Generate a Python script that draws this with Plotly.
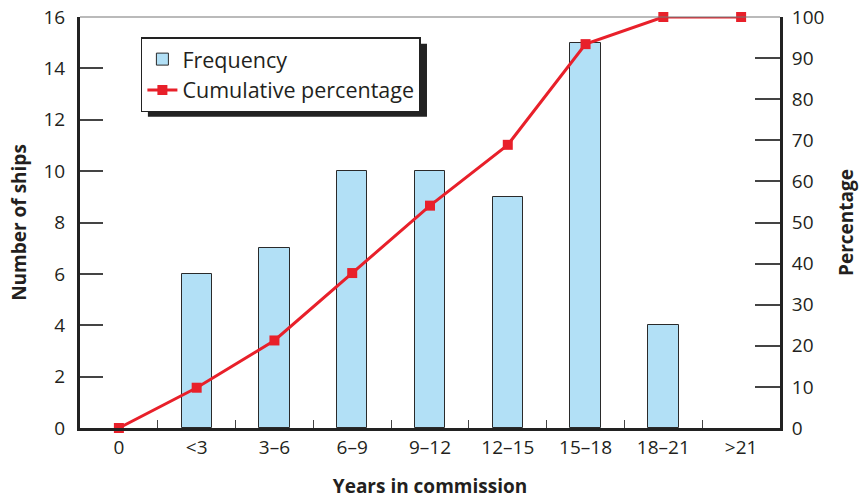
import plotly.graph_objects as go

categories = ["0", "<3", "3–6", "6–9", "9–12", "12–15", "15–18", "18–21", ">21"]
bar_categories = ["<3", "3–6", "6–9", "9–12", "12–15", "15–18", "18–21", ">21"]
frequency = [6, 7, 10, 10, 9, 15, 4, 0]
cumulative_pct = [0, 9.8, 21.3, 37.7, 54.1, 68.9, 93.4, 100, 100]
left_ticks = [0, 2, 4, 6, 8, 10, 12, 14, 16]
right_ticks = [0, 10, 20, 30, 40, 50, 60, 70, 80, 90, 100]

FONT = "Open Sans"
TXT = "#231f20"

fig = go.Figure()
fig.add_trace(go.Bar(
    x=bar_categories, y=frequency, name="Frequency",
    marker=dict(color="#b2e0f6",
                line=dict(color="#2a2a2a", width=[1 if v > 0 else 0 for v in frequency])),
    width=0.39, yaxis="y",
))
fig.add_trace(go.Scatter(
    x=categories, y=cumulative_pct, name="Cumulative percentage",
    mode="lines+markers",
    line=dict(color="#e8202a", width=3),
    marker=dict(symbol="square", size=10, color="#e8202a"),
    yaxis="y2", cliponaxis=False,
))

fig.update_layout(
    width=859, height=499,
    margin=dict(l=80, r=79, t=17, b=71, autoexpand=False),
    paper_bgcolor="white", plot_bgcolor="white",
    font=dict(family=FONT, size=19, color=TXT),
    bargap=0,
    showlegend=True,
    legend=dict(
        x=0.087, y=0.951, xanchor="left", yanchor="top",
        bgcolor="white", bordercolor="#222", borderwidth=1.5,
        font=dict(family=FONT, size=21.5, color=TXT),
        itemwidth=30,
    ),
    xaxis=dict(
        type="category", categoryorder="array", categoryarray=categories,
        range=[-0.5, 8.5], automargin=False,
        showline=True, linecolor="#222", linewidth=3,
        ticks="inside", tickson="boundaries", ticklen=8, tickwidth=1.2, tickcolor="#444",
        showgrid=False, zeroline=False,
        tickfont=dict(size=19),
        title=dict(text="<b>Years in commission</b>", font=dict(size=19), standoff=22),
    ),
    yaxis=dict(
        range=[0, 16], tickvals=left_ticks, automargin=False,
        showline=True, linecolor="#222", linewidth=3,
        ticks="inside", ticklen=23, tickwidth=1.5, tickcolor="#444",
        ticklabelstandoff=8,
        showgrid=False, zeroline=False,
        tickfont=dict(size=19),
        title=dict(text="<b>Number of ships</b>", font=dict(size=19), standoff=12),
    ),
    yaxis2=dict(
        range=[0, 100], tickvals=right_ticks, overlaying="y", side="right",
        automargin=False,
        showline=True, linecolor="#222", linewidth=3,
        ticks="inside", ticklen=25, tickwidth=1.5, tickcolor="#444",
        ticklabelstandoff=5,
        showgrid=False, zeroline=False,
        tickfont=dict(size=19),
        title=dict(text="<b>Percentage</b>", font=dict(size=19), standoff=20),
    ),
    shapes=[
        dict(type="line", xref="paper", yref="paper", x0=0, x1=1, y0=1, y1=1,
             line=dict(color="#777", width=1.2)),
        dict(type="rect", xref="paper", yref="paper", layer="below",
             x0=0.097, x1=0.4957, y0=0.757, y1=0.935,
             fillcolor="#222", line=dict(width=0)),
    ],
)

fig.write_html("out.html")
